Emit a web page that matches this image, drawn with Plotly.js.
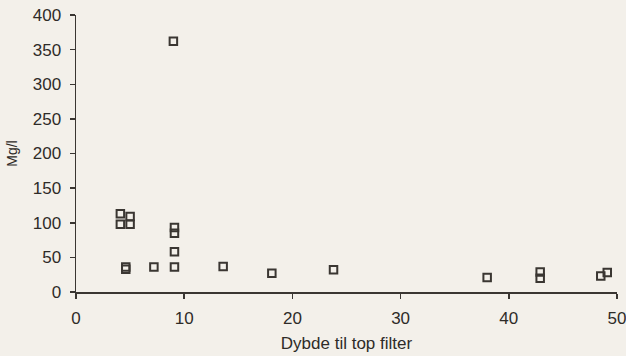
<!DOCTYPE html>
<html>
<head>
<meta charset="utf-8">
<script src="https://cdn.plot.ly/plotly-3.0.1.min.js"></script>
<style>
html,body{margin:0;padding:0;background:#f3f0ea;overflow:hidden;}
#chart{width:626px;height:356px;}
</style>
</head>
<body>
<div id="chart"></div>
<script>
// Depth to top of filter (m)
const depth = [4.1, 4.1, 5.0, 5.0, 4.6, 4.6, 7.2, 9.1, 9.1, 9.1, 9.1, 9.0, 13.6, 18.1, 23.8, 38.0, 42.9, 42.9, 48.5, 49.1];
// Concentration (Mg/l)
const conc  = [113, 98, 109, 98, 36, 33, 36, 93, 85, 58, 36, 362, 37, 27, 32, 21, 29, 20, 23, 28];
const xTicks = [0, 10, 20, 30, 40, 50];
const yTicks = [0, 50, 100, 150, 200, 250, 300, 350, 400];

const trace = {
  x: depth, y: conc, type: 'scatter', mode: 'markers',
  marker: {symbol: 'square-open', size: 7.5, color: '#3a3632', line: {width: 2, color: '#3a3632'}},
  cliponaxis: false, hoverinfo: 'x+y'
};

const ff = '"Liberation Sans", Arial, sans-serif';
const tickFont = {family: ff, size: 17, color: '#2e2b28'};
const xTitleFont = {family: ff, size: 17, color: '#2e2b28'};
const yTitleFont = {family: ff, size: 14, color: '#2e2b28'};

const layout = {
  width: 626, height: 356,
  paper_bgcolor: '#f3f0ea', plot_bgcolor: '#f3f0ea',
  margin: {l: 76, r: 9, t: 15, b: 64},
  showlegend: false,
  font: tickFont,
  xaxis: {
    range: [0, 50], tickvals: xTicks, ticktext: xTicks.map(String),
    showgrid: false, zeroline: false, showline: true, linecolor: '#3a3632', linewidth: 1.5,
    ticks: 'outside', ticklen: 5, tickcolor: '#3a3632', tickwidth: 1.5,
    ticklabelstandoff: 5, ticklabeloverflow: 'allow',
    title: {text: 'Dybde til top filter', font: xTitleFont, standoff: 10},
    tickfont: tickFont
  },
  yaxis: {
    range: [0, 400], tickvals: yTicks, ticktext: yTicks.map(String),
    showgrid: false, zeroline: false, showline: true, linecolor: '#3a3632', linewidth: 1.5,
    ticks: 'outside', ticklen: 5, tickcolor: '#3a3632', tickwidth: 1.5,
    ticklabelstandoff: 5, ticklabeloverflow: 'allow',
    title: {text: 'Mg/l', font: yTitleFont, standoff: 12},
    tickfont: tickFont
  }
};

Plotly.newPlot('chart', [trace], layout, {displayModeBar: false, staticPlot: true});
</script>
</body>
</html>
